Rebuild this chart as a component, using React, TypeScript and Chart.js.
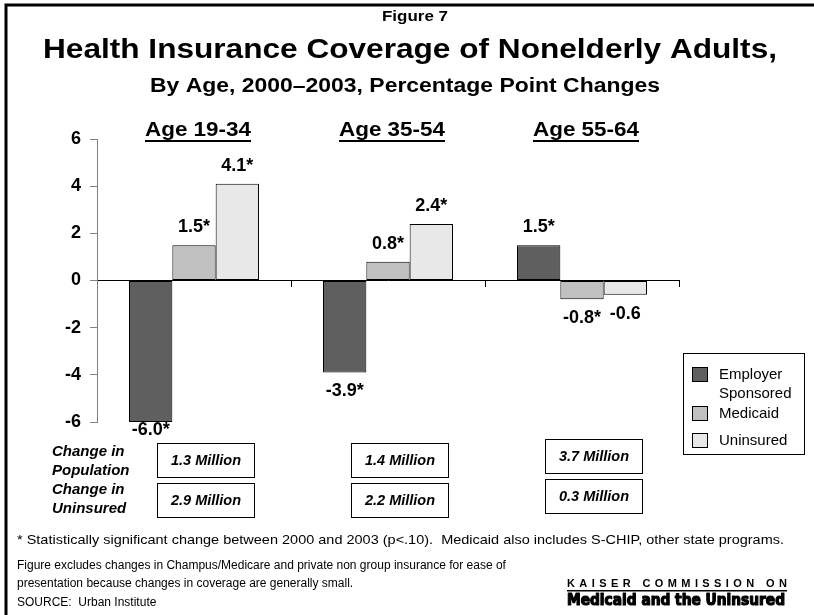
import React, { useEffect, useRef } from "react";
import { Chart, registerables } from "chart.js";

Chart.register(...registerables);

// ---------------- data ----------------
const categories = ["Age 19-34", "Age 35-54", "Age 55-64"];
const seriesNames = ["Employer Sponsored", "Medicaid", "Uninsured"];
const employer = [-6.0, -3.9, 1.5];
const medicaid = [1.5, 0.8, -0.8];
const uninsured = [4.1, 2.4, -0.6];
const employerSig = [true, true, true];
const medicaidSig = [true, true, true];
const uninsuredSig = [true, true, false];
const populationChange = ["1.3 Million", "1.4 Million", "3.7 Million"];
const uninsuredChange = ["2.9 Million", "2.2 Million", "0.3 Million"];
const yMin = -6;
const yMax = 6;
const yStep = 2;

const figureLabel = "Figure 7";
const titleText = "Health Insurance Coverage of Nonelderly Adults,";
const subtitleText = "By Age, 2000\u20132003, Percentage Point Changes";
const rowLabels = [["Change in", "Population"], ["Change in", "Uninsured"]];
const footnote1 =
  "* Statistically significant change between 2000 and 2003 (p<.10).  Medicaid also includes S-CHIP, other state programs.";
const footnote2a = "Figure excludes changes in Champus/Medicare and private non group insurance for ease of";
const footnote2b = "presentation because changes in coverage are generally small.";
const sourceText = "SOURCE:  Urban Institute";
const logoTop = "KAISER COMMISSION ON";
const logoBottom = "Medicaid and the Uninsured";

// ---------------- styles ----------------
const FONT = "'Liberation Sans', Arial, Helvetica, sans-serif";
const seriesColors = ["#5f5f5f", "#c0c0c0", "#e8e8e8"];
const sigFlags = [employerSig, medicaidSig, uninsuredSig];

function drawText(
  ctx: CanvasRenderingContext2D,
  s: string,
  x: number,
  y: number,
  font: string,
  align: CanvasTextAlign = "left",
  fitWidth?: number,
  color = "#000"
) {
  ctx.save();
  ctx.font = font;
  ctx.fillStyle = color;
  ctx.textBaseline = "middle";
  ctx.textAlign = align;
  if (fitWidth) {
    const w = ctx.measureText(s).width;
    ctx.translate(x, y);
    ctx.scale(fitWidth / w, 1);
    ctx.fillText(s, 0, 0);
  } else {
    ctx.fillText(s, x, y);
  }
  ctx.restore();
}

const overlay = {
  id: "overlay",
  beforeDraw(chart: any) {
    const ctx = chart.ctx as CanvasRenderingContext2D;
    ctx.save();
    ctx.fillStyle = "#fff";
    ctx.fillRect(0, 0, chart.width, chart.height);
    ctx.restore();
  },
  afterDraw(chart: any) {
    const ctx = chart.ctx as CanvasRenderingContext2D;
    const xs = chart.scales.x;
    const area = chart.chartArea;

    // frame
    ctx.save();
    ctx.strokeStyle = "#000";
    ctx.lineWidth = 3;
    ctx.beginPath();
    ctx.moveTo(6, chart.height + 5);
    ctx.lineTo(6, 5);
    ctx.lineTo(chart.width + 5, 5);
    ctx.stroke();
    ctx.restore();

    // titles
    drawText(ctx, figureLabel, 415, 17, `bold 14px ${FONT}`, "center", 66);
    drawText(ctx, titleText, 410, 50, `bold 28px ${FONT}`, "center", 734);
    drawText(ctx, subtitleText, 405, 86, `bold 20px ${FONT}`, "center", 510);

    // category headings (underlined)
    categories.forEach((c, i) => {
      const cx = xs.getPixelForValue(i) + 4;
      drawText(ctx, c, cx, 130, `bold 20px ${FONT}`, "center", 106);
      ctx.save();
      ctx.fillStyle = "#000";
      ctx.fillRect(cx - 53, 140, 106, 2);
      ctx.restore();
    });

    // value labels
    chart.data.datasets.forEach((ds: any, di: number) => {
      const meta = chart.getDatasetMeta(di);
      meta.data.forEach((el: any, i: number) => {
        const v = ds.data[i];
        const s = v.toFixed(1) + (sigFlags[di][i] ? "*" : "");
        let y: number;
        if (v >= 0) y = el.y - 18;
        else y = Math.min(el.y + 19, area.bottom + 8);
        drawText(ctx, s, el.x, y, `bold 18px ${FONT}`, "center");
      });
    });

    // legend
    ctx.save();
    ctx.strokeStyle = "#000";
    ctx.lineWidth = 1;
    ctx.strokeRect(683.5, 353.5, 121, 101);
    ctx.restore();
    const legendRows = [
      { lines: ["Employer", "Sponsored"], top: 367 },
      { lines: ["Medicaid"], top: 406 },
      { lines: ["Uninsured"], top: 433 },
    ];
    legendRows.forEach((r, i) => {
      ctx.save();
      ctx.fillStyle = chart.data.datasets[i].backgroundColor;
      ctx.fillRect(692, r.top, 16, 15);
      ctx.strokeStyle = "#000";
      ctx.lineWidth = 1;
      ctx.strokeRect(692.5, r.top + 0.5, 15, 14);
      ctx.restore();
      r.lines.forEach((ln, k) => {
        drawText(ctx, ln, 719, r.top + 8 + k * 19, `15px ${FONT}`, "left");
      });
    });

    // row labels
    const rowY = [[452, 471], [490, 509]];
    rowLabels.forEach((lines, r) => {
      lines.forEach((ln, k) => {
        drawText(ctx, ln, 52, rowY[r][k], `italic bold 15px ${FONT}`, "left");
      });
    });

    // boxes
    const boxOffsetY = [0, 0, -4];
    [populationChange, uninsuredChange].forEach((vals, r) => {
      vals.forEach((v, i) => {
        const cx = xs.getPixelForValue(i) + 12;
        const top = (r === 0 ? 443 : 483) + boxOffsetY[i];
        ctx.save();
        ctx.strokeStyle = "#000";
        ctx.lineWidth = 1;
        ctx.strokeRect(Math.round(cx - 49) + 0.5, top + 0.5, 97, 34);
        ctx.restore();
        drawText(ctx, v, cx, top + 18, `italic bold 14.5px ${FONT}`, "center");
      });
    });

    // footnotes
    drawText(ctx, footnote1, 17, 540, `13px ${FONT}`, "left", 767);
    drawText(ctx, footnote2a, 17, 566, `12px ${FONT}`, "left");
    drawText(ctx, footnote2b, 17, 584, `12px ${FONT}`, "left");
    drawText(ctx, sourceText, 17, 603, `12px ${FONT}`, "left");

    // logo
    ctx.save();
    ctx.font = `bold 11px ${FONT}`;
    ctx.fillStyle = "#000";
    ctx.textBaseline = "middle";
    ctx.textAlign = "left";
    const chars = logoTop.split("");
    const widths = chars.map((c) => ctx.measureText(c).width);
    const total = widths.reduce((a, b) => a + b, 0);
    const gap = (220 - total) / (chars.length - 1);
    let x = 567;
    chars.forEach((c, k) => {
      ctx.fillText(c, x, 584);
      x += widths[k] + gap;
    });
    ctx.fillRect(567, 590, 220, 1.5);
    ctx.restore();
    ctx.save();
    ctx.lineWidth = 1.2;
    ctx.strokeStyle = "#000";
    ctx.lineJoin = "round";
    ctx.font = `bold 15px 'DejaVu Sans', ${FONT}`;
    const lw = ctx.measureText(logoBottom).width;
    ctx.translate(567, 601);
    ctx.scale(218 / lw, 1);
    ctx.textBaseline = "middle";
    ctx.fillStyle = "#000";
    ctx.fillText(logoBottom, 0, 0);
    ctx.strokeText(logoBottom, 0, 0);
    ctx.restore();
  },
};

export default function App() {
  const ref = useRef<HTMLCanvasElement>(null);
  useEffect(() => {
    const values = [employer, medicaid, uninsured];
    const chart = new Chart(ref.current as HTMLCanvasElement, {
      type: "bar",
      data: {
        labels: categories,
        datasets: seriesNames.map((n, i) => ({
          label: n,
          data: values[i],
          backgroundColor: seriesColors[i],
          borderColor: "#000",
          borderWidth: 1,
          borderSkipped: false,
          categoryPercentage: 0.67,
          barPercentage: 1,
        })),
      },
      options: {
        responsive: false,
        animation: false,
        devicePixelRatio: 1,
        layout: { padding: { left: 0, top: 139, right: 135, bottom: 193 } },
        plugins: {
          legend: { display: false },
          tooltip: { enabled: false },
          title: { display: false },
        },
        scales: {
          x: {
            position: { y: 0 } as any,
            offset: true,
            ticks: { display: false },
            grid: {
              offset: true,
              drawOnChartArea: false,
              drawTicks: true,
              tickLength: 6,
              color: "#000",
            },
            border: { color: "#000", width: 1 },
          },
          y: {
            min: yMin,
            max: yMax,
            ticks: {
              stepSize: yStep,
              color: "#000",
              padding: 9,
              font: { family: FONT, size: 18, weight: "bold" },
            },
            grid: { drawOnChartArea: false, tickLength: 7, color: "#808080" },
            border: { color: "#808080", width: 1 },
            afterFit: (s: any) => {
              s.width = 97;
            },
          },
        },
      } as any,
      plugins: [overlay],
    });
    return () => chart.destroy();
  }, []);
  return (
    <div style={{ position: "absolute", left: 0, top: 0, width: 814, height: 615, background: "#fff" }}>
      <canvas ref={ref} width={814} height={615} style={{ display: "block", width: 814, height: 615 }} />
    </div>
  );
}
